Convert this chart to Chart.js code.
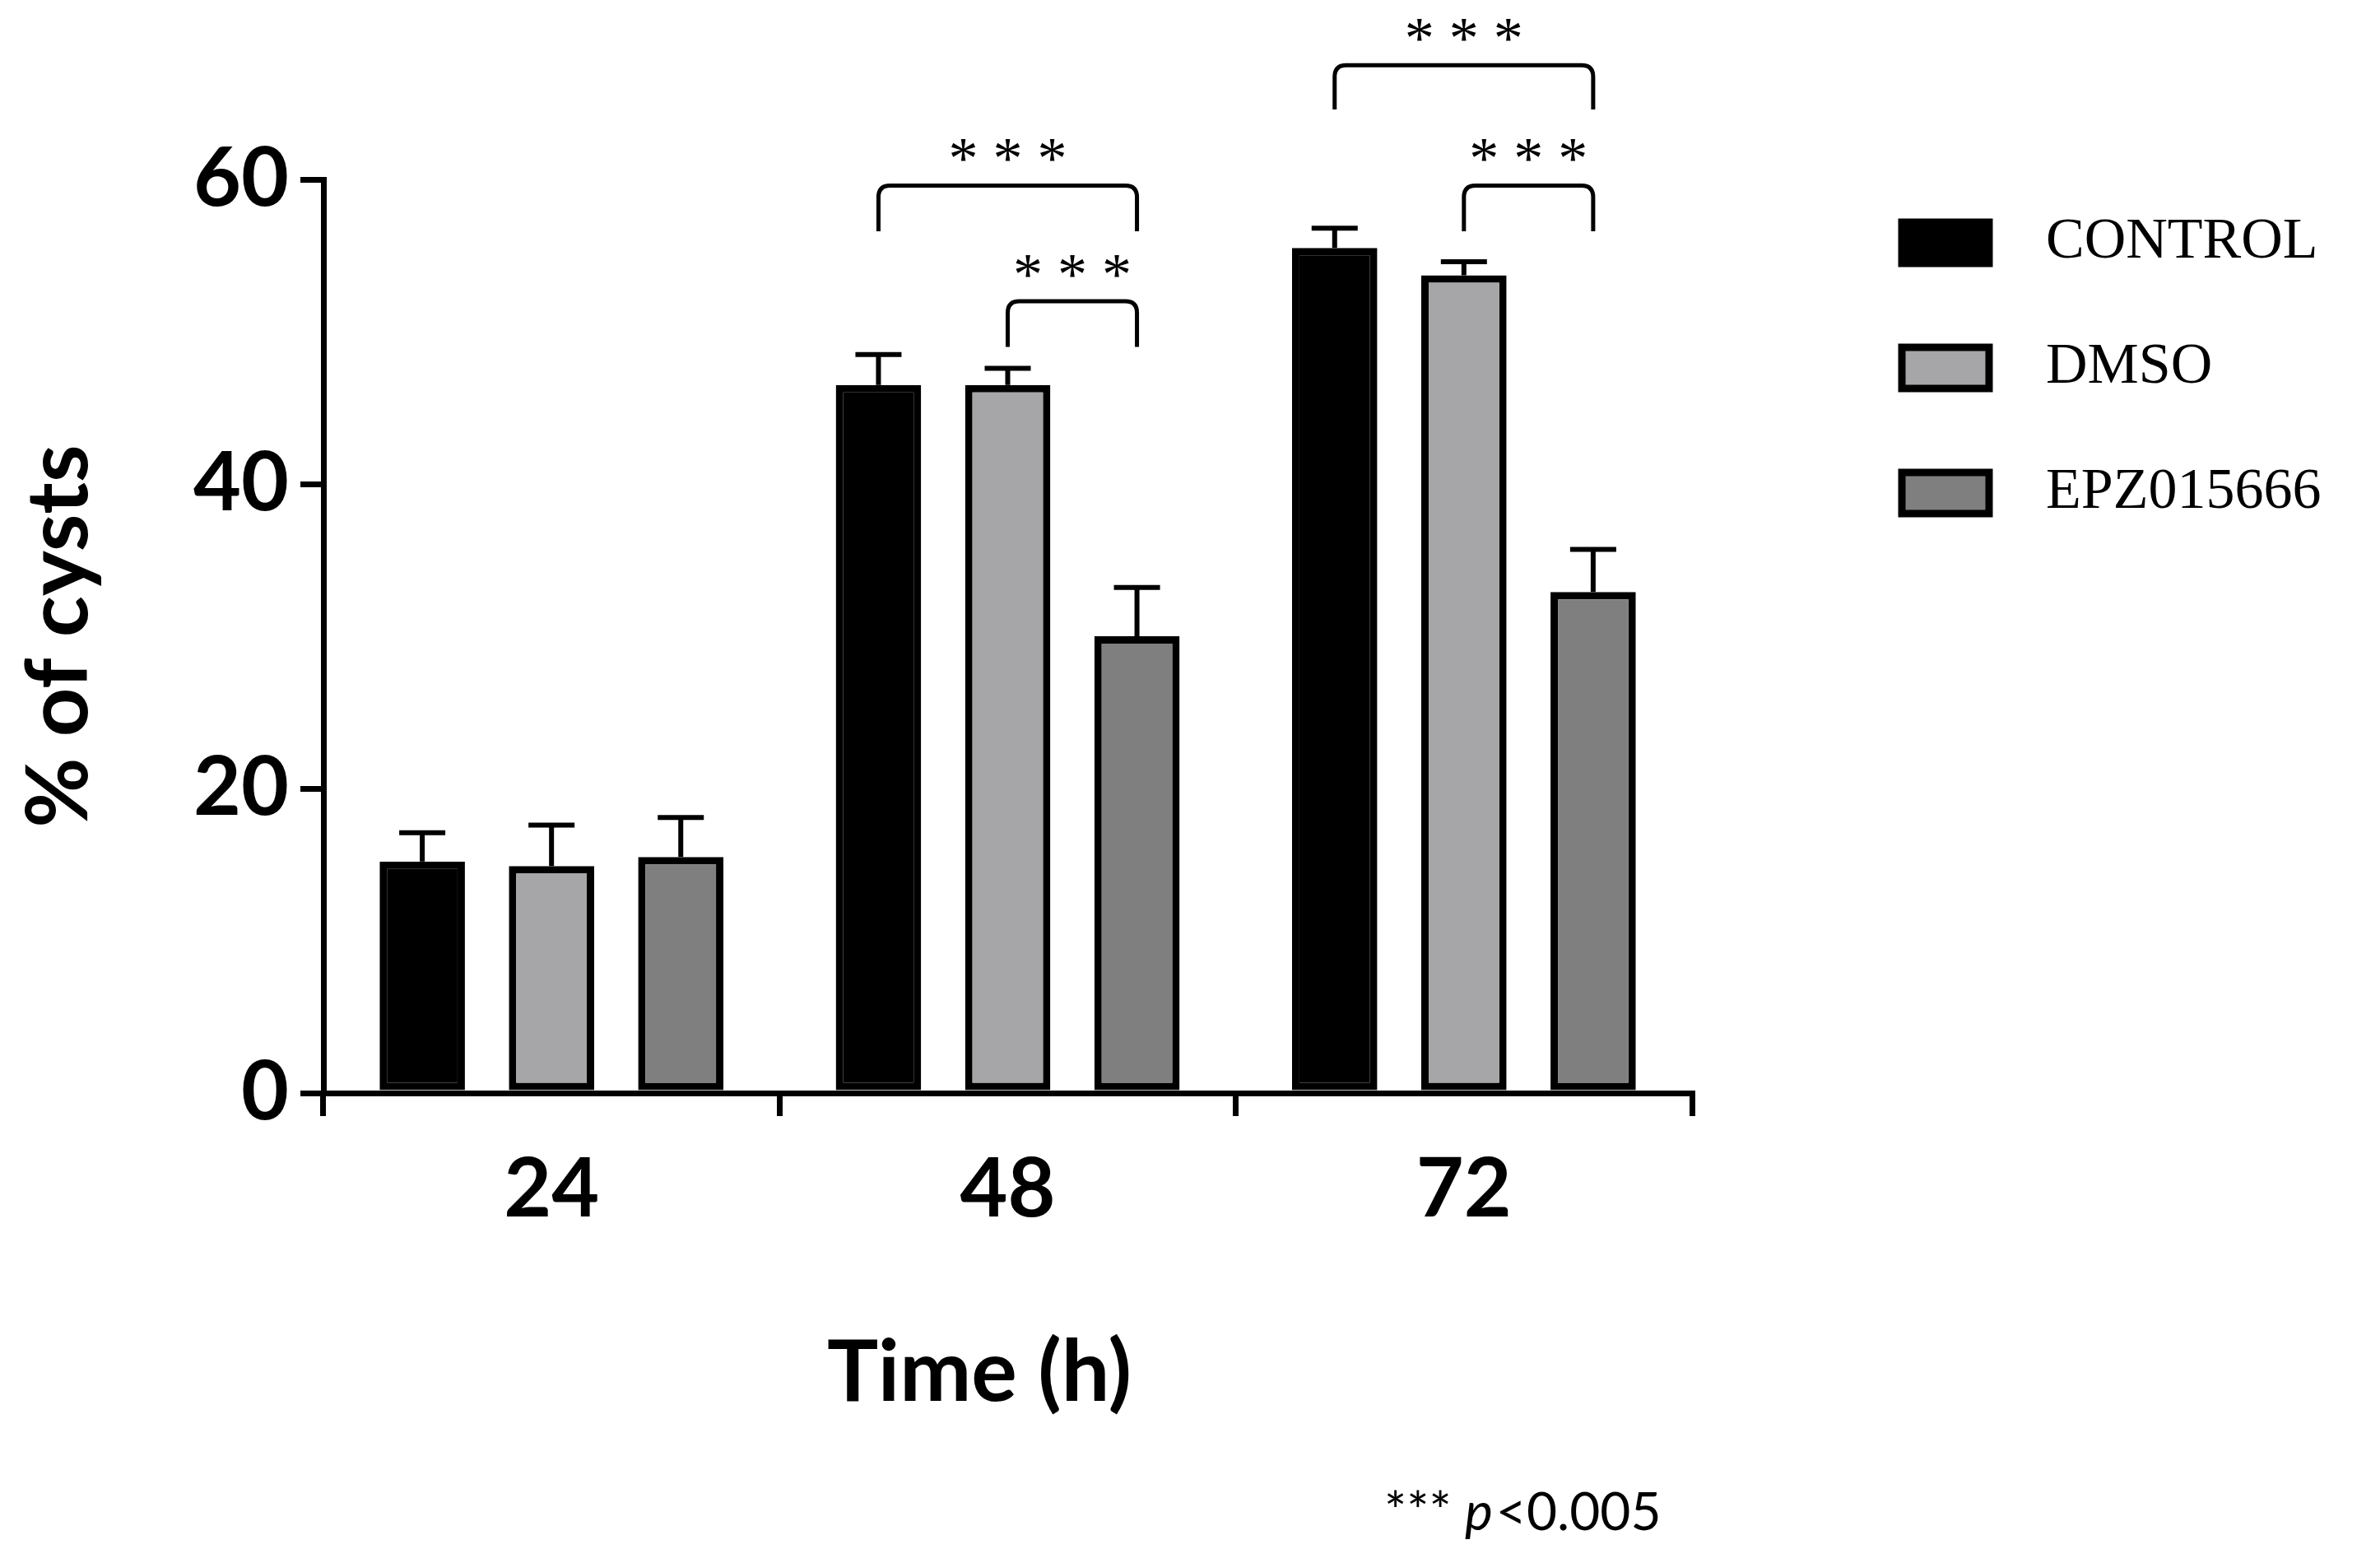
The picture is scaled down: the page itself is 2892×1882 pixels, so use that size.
<!DOCTYPE html>
<html><head><meta charset="utf-8">
<style>html,body{margin:0;padding:0;background:#fff;}#w{width:2892px;height:1882px;}</style>
<script src="https://cdn.jsdelivr.net/npm/chart.js@4/dist/chart.umd.min.js"></script>
</head><body><div id="w"><canvas id="c"></canvas></div>
<script>
const categories = ['24','48','72'];
const seriesNames = ['CONTROL','DMSO','EPZ015666'];
const controlVals = [15.2, 46.5, 55.5];
const dmsoVals = [14.9, 46.5, 53.7];
const epzVals = [15.5, 30.0, 32.9];
const controlErr = [1.9, 2.0, 1.3];
const dmsoErr = [2.7, 1.1, 0.9];
const epzErr = [2.6, 3.2, 2.8];
const yTicks = [0, 20, 40, 60];
const brackets = [
  {cat:1, from:0, to:2, y:59.6, leg:56.6, label:'***'},
  {cat:1, from:1, to:2, y:52.0, leg:49.0, label:'***'},
  {cat:2, from:0, to:2, y:67.5, leg:64.6, label:'***'},
  {cat:2, from:1, to:2, y:59.6, leg:56.6, label:'***'}
];
const colors = ['#000000','#a6a6a9','#7f7f7f'];
const errs = [controlErr, dmsoErr, epzErr];
const FONT = 'Lato, "Open Sans", sans-serif';
const SERIF = '"Liberation Serif", "DejaVu Serif", serif';

const extras = {
  id:'extras',
  afterDatasetsDraw(chart){
    const ctx = chart.ctx, y = chart.scales.y;
    ctx.save();
    ctx.strokeStyle='#000'; ctx.lineWidth=6;
    chart.data.datasets.forEach((ds,i)=>{
      const meta = chart.getDatasetMeta(i);
      meta.data.forEach((bar,j)=>{
        const top = y.getPixelForValue(ds.data[j]+errs[i][j]);
        ctx.beginPath();
        ctx.moveTo(bar.x, bar.y); ctx.lineTo(bar.x, top);
        ctx.moveTo(bar.x-28, top); ctx.lineTo(bar.x+28, top);
        ctx.stroke();
      });
    });
    // brackets
    ctx.lineWidth=5;
    ctx.fillStyle='#000';
    ctx.font='72px '+SERIF; ctx.textAlign='center'; ctx.textBaseline='middle';
    brackets.forEach(b=>{
      const x1 = chart.getDatasetMeta(b.from).data[b.cat].x;
      const x2 = chart.getDatasetMeta(b.to).data[b.cat].x;
      const yy = y.getPixelForValue(b.y), yl = y.getPixelForValue(b.leg);
      const r = 14;
      ctx.beginPath();
      ctx.moveTo(x1, yl); ctx.lineTo(x1, yy+r); ctx.quadraticCurveTo(x1, yy, x1+r, yy);
      ctx.lineTo(x2-r, yy); ctx.quadraticCurveTo(x2, yy, x2, yy+r); ctx.lineTo(x2, yl);
      ctx.stroke();
      ctx.fillText(b.label.split('').join(' '), (x1+x2)/2, yy-28);
    });
    // axis titles
    ctx.font='bold 104px '+FONT;
    ctx.save(); ctx.translate(72, (chart.chartArea.top+chart.chartArea.bottom)/2);
    ctx.rotate(-Math.PI/2); ctx.fillText('% of cysts',0,0); ctx.restore();
    ctx.fillText('Time (h)', 1190, 1668);
    // footnote
    ctx.font='64px '+FONT; ctx.textAlign='right';
    ctx.fillText('*** ', 1780, 1838);
    ctx.textAlign='left';
    ctx.font='italic 64px '+FONT; ctx.fillText('p', 1780, 1838);
    const pw = ctx.measureText('p').width;
    ctx.font='64px '+FONT; ctx.fillText('<0.005', 1780+pw+4, 1838);
    // legend
    ctx.font='70px '+SERIF; ctx.textBaseline='middle';
    seriesNames.forEach((n,i)=>{
      const cy = 295 + i*152;
      ctx.fillStyle=colors[i]; ctx.fillRect(2311, cy-25, 106, 50);
      ctx.lineWidth=9; ctx.strokeStyle='#000'; ctx.strokeRect(2311, cy-25, 106, 50);
      ctx.fillStyle='#000'; ctx.fillText(n, 2486, cy);
    });
    ctx.restore();
  }
};

new Chart(document.getElementById('c'), {
  type:'bar',
  data:{labels:categories, datasets:seriesNames.map((n,i)=>({
    label:n, data:[controlVals,dmsoVals,epzVals][i], backgroundColor:colors[i],
    borderColor:'#000', borderWidth:9, borderSkipped:false,
    categoryPercentage:0.85, barPercentage:0.66
  }))},
  options:{
    responsive:true, maintainAspectRatio:false, animation:false,
    layout:{padding:{left:0, right:836, top:218, bottom:0}},
    plugins:{legend:{display:false}, tooltip:{enabled:false}},
    scales:{
      y:{min:0,max:60, afterFit(s){s.width=393;},
        afterBuildTicks(s){s.ticks=yTicks.map(v=>({value:v}));},
        ticks:{font:{family:FONT,weight:'bold',size:100},color:'#000',padding:14},
        grid:{drawOnChartArea:false, drawTicks:true, tickLength:28, lineWidth:7, color:'#000'},
        border:{width:7,color:'#000'}},
      x:{afterFit(s){s.height=554;},
        ticks:{font:{family:FONT,weight:'bold',size:100},color:'#000',padding:30},
        grid:{drawOnChartArea:false, drawTicks:true, tickLength:28, lineWidth:7, color:'#000'},
        border:{width:7,color:'#000'}}
    }
  },
  plugins:[extras]
});
</script></body></html>
